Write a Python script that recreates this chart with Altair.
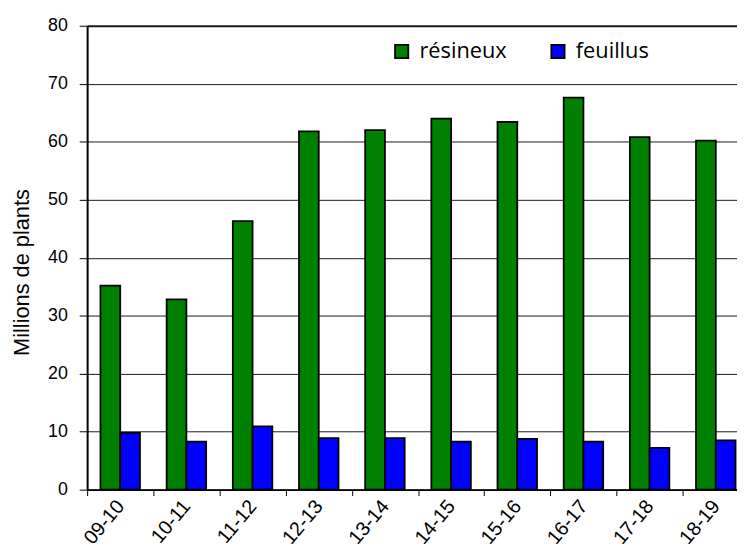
import altair as alt
import pandas as pd

campagnes = ["09-10", "10-11", "11-12", "12-13", "13-14", "14-15", "15-16", "16-17", "17-18", "18-19"]
resineux = [35.2, 32.8, 46.3, 61.8, 62.0, 64.0, 63.4, 67.6, 60.8, 60.2]
feuillus = [9.8, 8.3, 10.9, 8.9, 8.9, 8.3, 8.75, 8.3, 7.2, 8.5]
series = ["résineux", "feuillus"]
colors = ["#008000", "#0000FF"]
y_ticks = [0, 10, 20, 30, 40, 50, 60, 70, 80]

rows = []
for i, c in enumerate(campagnes):
    rows.append({"campagne": c, "type": series[0], "valeur": resineux[i]})
    rows.append({"campagne": c, "type": series[1], "valeur": feuillus[i]})
df = pd.DataFrame(rows)

chart = alt.Chart(df).mark_bar(stroke="black", strokeWidth=1.8).encode(
    x=alt.X(
        "campagne:N",
        sort=campagnes,
        scale=alt.Scale(range=[0, 669], paddingInner=0, paddingOuter=0),
        axis=alt.Axis(
            title=None,
            labelAngle=-50,
            labelAlign="right",
            labelBaseline="middle",
            labelFont="Liberation Sans",
            labelFontSize=20,
            labelColor="black",
            labelPadding=7,
            tickBand="extent",
            tickSize=6,
            tickColor="black",
            domainColor="black",
            domainWidth=1.6,
            labelOverlap=False,
        ),
    ),
    xOffset=alt.XOffset(
        "type:N",
        sort=series,
        scale=alt.Scale(paddingInner=0, paddingOuter=0.675),
    ),
    y=alt.Y(
        "valeur:Q",
        scale=alt.Scale(domain=[0, 80], nice=False),
        axis=alt.Axis(
            title="Millions de plants",
            values=y_ticks,
            titleFont="Liberation Sans",
            titleFontSize=22,
            titleFontWeight="normal",
            titleColor="black",
            titleAngle=270,
            titleAlign="center",
            titleBaseline="middle",
            titleX=-66,
            titleY=249,
            labelFont="Liberation Sans",
            labelFontSize=18,
            labelColor="black",
            labelPadding=12,
            tickSize=8,
            tickColor="black",
            domainColor="black",
            domainWidth=2,
            grid=True,
            gridColor="#1a1a1a",
            gridWidth={"condition": {"test": "datum.value === 80", "value": 2.2}, "value": 1},
        ),
    ),
    color=alt.Color(
        "type:N",
        sort=series,
        scale=alt.Scale(domain=series, range=colors),
        legend=alt.Legend(
            title=None,
            orient="none",
            direction="horizontal",
            legendX=307,
            legendY=15,
            padding=0,
            symbolType="square",
            symbolSize=180,
            symbolStrokeColor="black",
            symbolStrokeWidth=1.8,
            symbolOpacity=1,
            labelFont="Open Sans",
            labelFontSize=22,
            labelColor="black",
            labelOffset=7,
            columnPadding=40,
        ),
    ),
).properties(
    width=657,
    height=469,
    padding={"left": 80, "top": 15, "right": 0, "bottom": 52},
    autosize=alt.AutoSizeParams(type="none"),
).configure_view(
    stroke=None
).configure(
    background="white"
)

chart.save("out.html", embed_options={"renderer": "svg", "actions": False})
